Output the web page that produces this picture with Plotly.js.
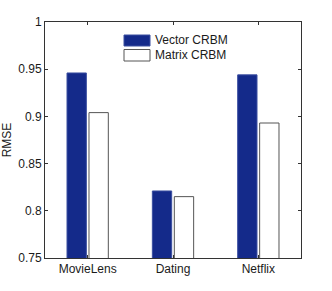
<!DOCTYPE html>
<html><head><meta charset="utf-8">
<script src="https://cdn.plot.ly/plotly-3.0.1.min.js"></script>
<style>html,body{margin:0;padding:0;background:#fff}</style>
</head><body><div id="chart" style="width:332px;height:291px"></div>
<script>
const categories = ["MovieLens", "Dating", "Netflix"];
const seriesNames = ["Vector CRBM", "Matrix CRBM"];
const vectorCRBM = [0.946, 0.821, 0.944];
const matrixCRBM = [0.904, 0.815, 0.893];
const yTicks = [0.75, 0.8, 0.85, 0.9, 0.95, 1];
const yTickText = ["0.75", "0.8", "0.85", "0.9", "0.95", "1"];

const font = {family: "Liberation Sans, Arial, sans-serif", size: 12, color: "#1a1a1a"};
const styles = [
  {color: "#142a8a", line: {color: "#3a4ea0", width: 1}},
  {color: "#ffffff", line: {color: "#555555", width: 1}}
];
const traces = [
  {type: "bar", name: seriesNames[0], x: categories, y: vectorCRBM, marker: styles[0], showlegend: false},
  {type: "bar", name: seriesNames[1], x: categories, y: matrixCRBM, marker: styles[1], showlegend: false}
];
// custom legend (wide swatches as in the original)
const legRows = [{y0: 0.8983, y1: 0.9449, ty: 0.9258}, {y0: 0.8347, y1: 0.8835, ty: 0.8602}];
const shapes = legRows.map((r, i) => ({type: "rect", xref: "paper", yref: "paper",
  x0: 0.3086, x1: 0.4102, y0: r.y0, y1: r.y1,
  fillcolor: styles[i].color, line: {color: styles[i].line.color, width: 1}}));
const annotations = legRows.map((r, i) => ({xref: "paper", yref: "paper", x: 0.4219, y: r.ty,
  xanchor: "left", yanchor: "middle", showarrow: false, text: seriesNames[i], font: font}));

const layout = {
  width: 332, height: 291,
  margin: {l: 45, r: 31, t: 22, b: 33},
  paper_bgcolor: "#fff", plot_bgcolor: "#fff",
  font: font,
  barmode: "group", bargap: 0.485, bargroupgap: 0.12,
  showlegend: false,
  shapes: shapes, annotations: annotations,
  xaxis: {type: "category", range: [-0.5, 2.5], showline: true, linecolor: "#333", linewidth: 1,
          mirror: "ticks", ticks: "inside", ticklen: 3, tickcolor: "#333", showgrid: false,
          zeroline: false, tickfont: font},
  yaxis: {range: [0.75, 1], tickvals: yTicks, ticktext: yTickText, showline: true,
          linecolor: "#333", linewidth: 1, mirror: "ticks", ticks: "inside", ticklen: 3,
          tickcolor: "#333", showgrid: false, zeroline: false, tickfont: font,
          title: {text: "RMSE", font: font, standoff: 4}}
};
Plotly.newPlot("chart", traces, layout, {displayModeBar: false, staticPlot: true});
</script></body></html>
